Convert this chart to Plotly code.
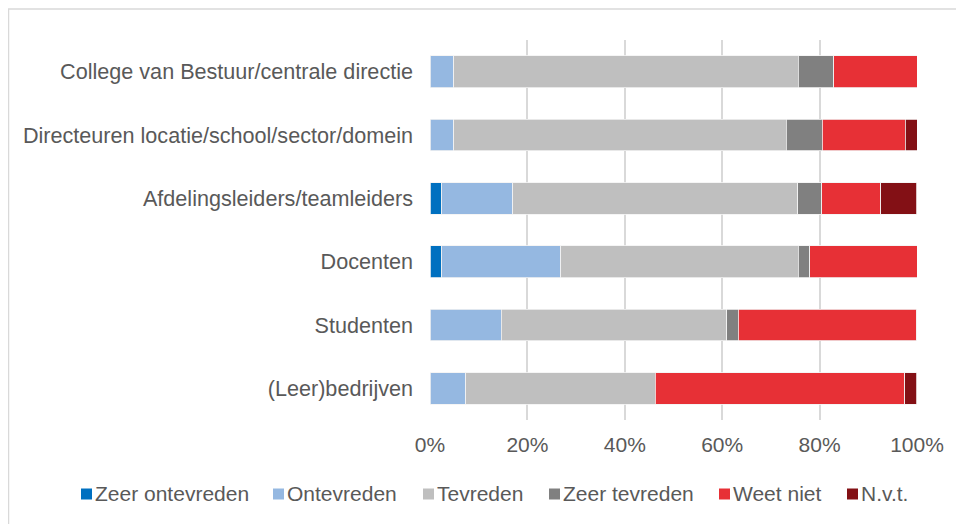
import plotly.graph_objects as go

categories = ['College van Bestuur/centrale directie',
              'Directeuren locatie/school/sector/domein',
              'Afdelingsleiders/teamleiders',
              'Docenten',
              'Studenten',
              '(Leer)bedrijven']

zeer_ontevreden = [0, 0, 2.4, 2.4, 0, 0]
ontevreden = [4.9, 4.9, 14.6, 24.4, 14.6, 7.3]
tevreden = [70.7, 68.3, 58.5, 48.8, 46.3, 39.0]
zeer_tevreden = [7.3, 7.3, 4.9, 2.4, 2.4, 0]
weet_niet = [17.1, 17.1, 12.2, 22.0, 36.6, 51.2]
nvt = [0, 2.4, 7.3, 0, 0, 2.4]

series = [('Zeer ontevreden', zeer_ontevreden, '#0070C0'),
          ('Ontevreden', ontevreden, '#95B8E1'),
          ('Tevreden', tevreden, '#BFBFBF'),
          ('Zeer tevreden', zeer_tevreden, '#808080'),
          ('Weet niet', weet_niet, '#E73036'),
          ('N.v.t.', nvt, '#831015')]

# left edge (window px) of each legend swatch, legend drawn by hand for tight spacing
legend_px = [81, 273, 423, 549, 719, 847]

# page body has an 8px margin, so the figure is drawn 8px smaller and shifted
OFF = 8
W, H = 964 - OFF, 524 - OFF
ml, mr, mt, mb = 430 - OFF, 47, 40 - OFF, 104
pw, ph = W - ml - mr, H - mt - mb


def px_x(p):
    return (p - OFF - ml) / pw


def px_y(p):
    return (H - mb - (p - OFF)) / ph


fig = go.Figure()
for name, vals, col in series:
    fig.add_bar(y=categories, x=vals, name=name, orientation='h',
                marker=dict(color=col, line=dict(color='#F2F2F2', width=0.8)),
                width=0.5, showlegend=False)

fig.update_layout(
    width=W, height=H,
    barmode='stack',
    plot_bgcolor='white', paper_bgcolor='white',
    margin=dict(l=ml, r=mr, t=mt, b=mb, autoexpand=False),
    font=dict(family='Liberation Sans, Arial', size=21, color='#595959'),
    xaxis=dict(range=[0, 100], tickvals=[0, 20, 40, 60, 80, 100],
               ticktext=['0%', '20%', '40%', '60%', '80%', '100%'],
               showgrid=True, gridcolor='#D9D9D9', gridwidth=1.5,
               zeroline=False, showline=False, ticks='', ticklabelstandoff=10),
    yaxis=dict(autorange='reversed', showgrid=False, ticks='',
               tickfont=dict(size=21.6),
               ticklabelstandoff=16, showline=False),
)

# legend
ly = 494
for (name, vals, col), lx in zip(series, legend_px):
    fig.add_shape(type='rect', xref='paper', yref='paper',
                  x0=px_x(lx), x1=px_x(lx + 11), y0=px_y(ly + 5.5), y1=px_y(ly - 5.5),
                  fillcolor=col, line=dict(width=0))
    fig.add_annotation(x=px_x(lx + 12), y=px_y(ly - 1), xref='paper', yref='paper',
                       text=name, showarrow=False, xanchor='left', yanchor='middle',
                       font=dict(size=21, color='#595959'))

# chart area frame (top and left edge visible)
fig.add_shape(type='line', xref='paper', yref='paper',
              x0=px_x(8), x1=px_x(964), y0=px_y(9), y1=px_y(9),
              line=dict(color='#D9D9D9', width=1.5))
fig.add_shape(type='line', xref='paper', yref='paper',
              x0=px_x(8.5), x1=px_x(8.5), y0=px_y(9), y1=px_y(524),
              line=dict(color='#D9D9D9', width=1.5))

fig.write_html("out.html")
